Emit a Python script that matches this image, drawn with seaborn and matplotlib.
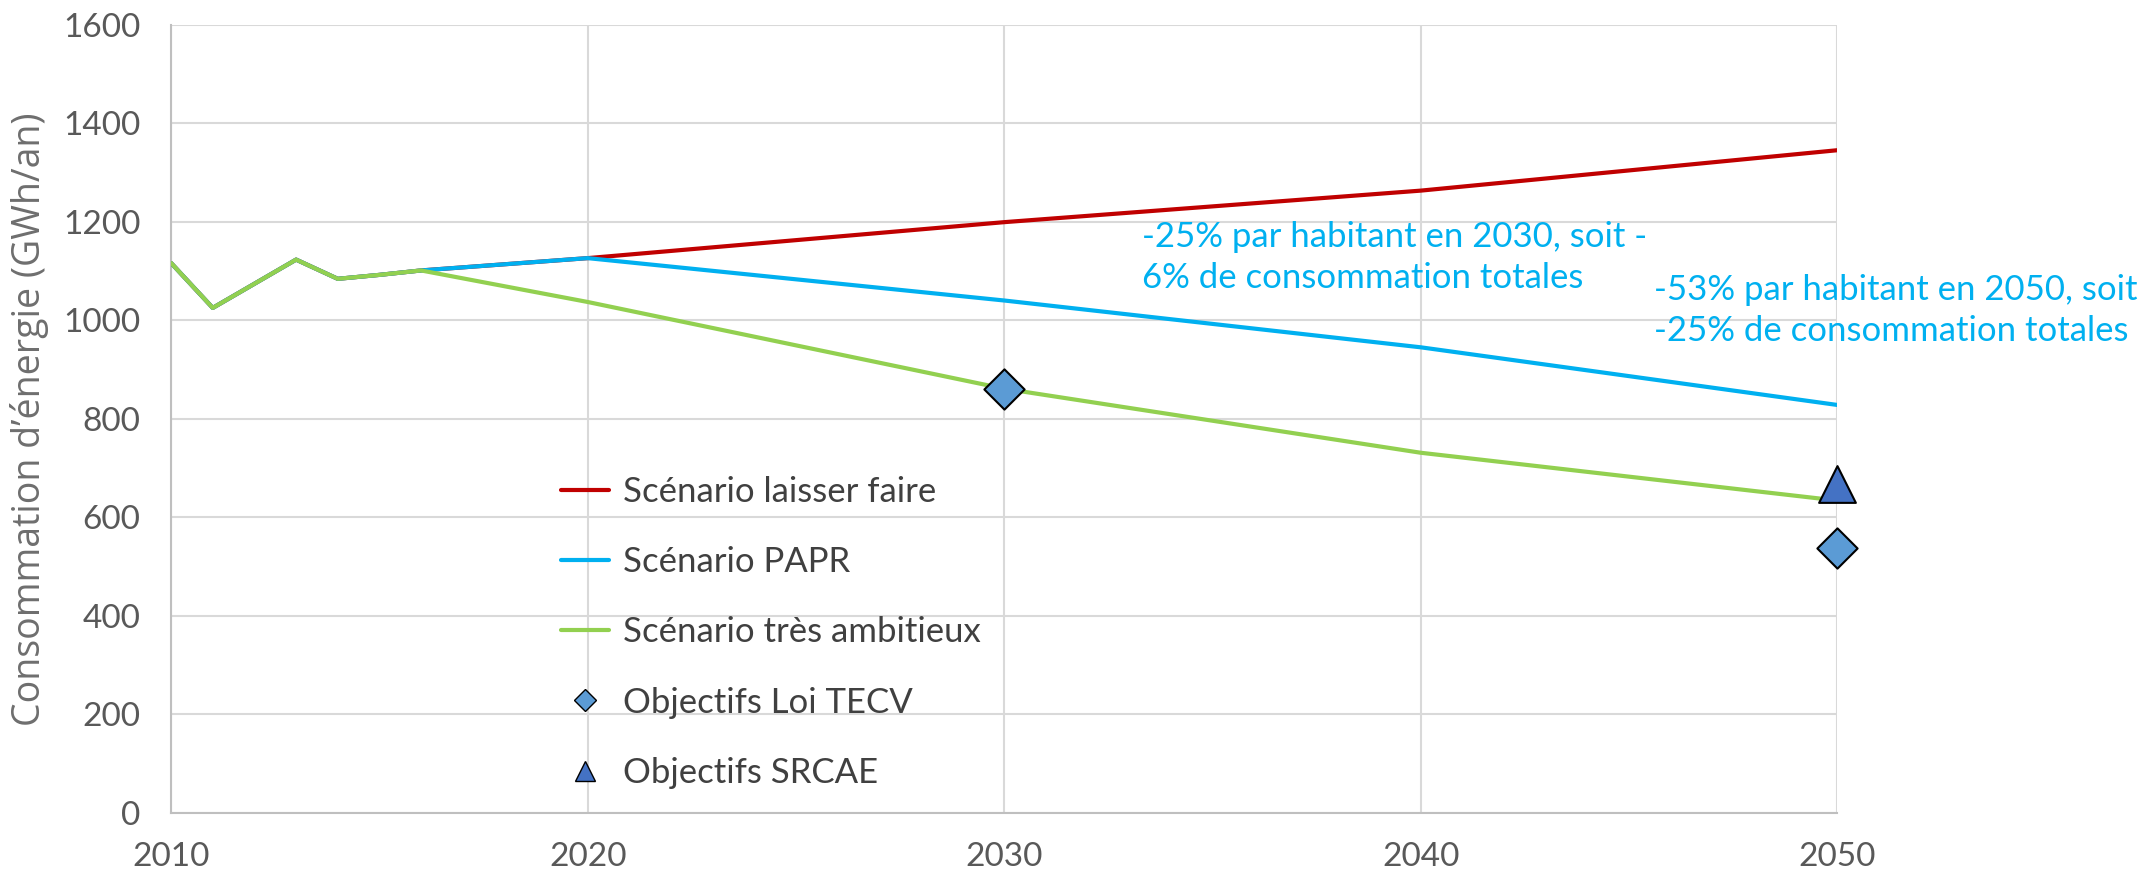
import matplotlib
matplotlib.use('Agg')
import matplotlib.pyplot as plt
from matplotlib.lines import Line2D
import pandas as pd
import seaborn as sns

# historical values (common to all scenarios)
hist_years = [2010, 2011, 2012, 2013, 2014, 2015, 2016]
hist_values = [1116, 1025, 1074, 1123, 1084, 1092, 1101]

proj_years = [2020, 2030, 2040, 2050]
laisser_faire = [1126, 1199, 1263, 1345]
papr = [1126, 1040, 945, 828]
tres_ambitieux = [1037, 861, 731, 634]

tecv_years = [2030, 2050]
tecv_values = [861, 538]
srcae_years = [2050]
srcae_values = [667]

labels = ['Scénario laisser faire', 'Scénario PAPR', 'Scénario très ambitieux']
colors = ['#C00000', '#00B0F0', '#92D050']

rows = []
for name, proj in zip(labels, [laisser_faire, papr, tres_ambitieux]):
    for y, v in zip(hist_years + proj_years, hist_values + proj):
        rows.append({'year': y, 'value': v, 'scenario': name})
df = pd.DataFrame(rows)
tecv = pd.DataFrame({'year': tecv_years, 'value': tecv_values})
srcae = pd.DataFrame({'year': srcae_years, 'value': srcae_values})

sns.set_style('white')
plt.rcParams['font.family'] = ['Lato', 'DejaVu Sans']

fig = plt.figure(figsize=(21.39, 8.77), dpi=100)
ax = fig.add_axes([0.080, 0.073, 0.779, 0.899])

sns.lineplot(data=df, x='year', y='value', hue='scenario', palette=colors,
             hue_order=labels, linewidth=3, ax=ax, legend=False, zorder=3)
sns.scatterplot(data=tecv, x='year', y='value', marker='D', s=420, color='#5B9BD5',
                edgecolor='black', linewidth=1.5, ax=ax, zorder=5, legend=False,
                clip_on=False)
sns.scatterplot(data=srcae, x='year', y='value', marker='^', s=700, color='#4472C4',
                edgecolor='black', linewidth=1.5, ax=ax, zorder=5, legend=False,
                clip_on=False)

ax.set_xlim(2010, 2050)
ax.set_ylim(0, 1600)
ax.set_xticks([2010, 2020, 2030, 2040, 2050])
ax.set_yticks(range(0, 1601, 200))
ax.grid(True, color='#D9D9D9', linewidth=1.5)
ax.set_axisbelow(True)
for s in ['top', 'right']:
    ax.spines[s].set_visible(False)
for s in ['left', 'bottom']:
    ax.spines[s].set_color('#BFBFBF')
    ax.spines[s].set_linewidth(1.5)
ax.tick_params(axis='both', length=0, labelsize=24, colors='#595959')
ax.tick_params(axis='x', pad=21)
ax.tick_params(axis='y', pad=22)
ax.set_xlabel('')
ax.set_ylabel('Consommation d’énergie (GWh/an)', fontsize=27, color='#6E6E6E',
              family=['Open Sans', 'DejaVu Sans'], labelpad=10)

ax.text(2033.3, 1128, '-25% par habitant en 2030, soit -\n6% de consommation totales',
        color='#00B0F0', fontsize=25, va='center', ha='left', linespacing=1.35)
ax.text(2045.6, 1020, '-53% par habitant en 2050, soit\n-25% de consommation totales',
        color='#00B0F0', fontsize=25, va='center', ha='left', linespacing=1.35,
        clip_on=False)

handles = [Line2D([], [], color=c, linewidth=3) for c in colors]
handles.append(Line2D([], [], marker='D', linestyle='none', markersize=11,
                      markerfacecolor='#5B9BD5', markeredgecolor='black'))
handles.append(Line2D([], [], marker='^', linestyle='none', markersize=14,
                      markerfacecolor='#4472C4', markeredgecolor='black'))
leg = ax.legend(handles, labels + ['Objectifs Loi TECV', 'Objectifs SRCAE'],
                loc='upper left', bbox_to_anchor=(0.215, 0.467), frameon=False,
                fontsize=25, handlelength=1.4, handletextpad=0.4, labelspacing=1.1)
for t in leg.get_texts():
    t.set_color('#404040')

fig.savefig('out.png', dpi=100)
